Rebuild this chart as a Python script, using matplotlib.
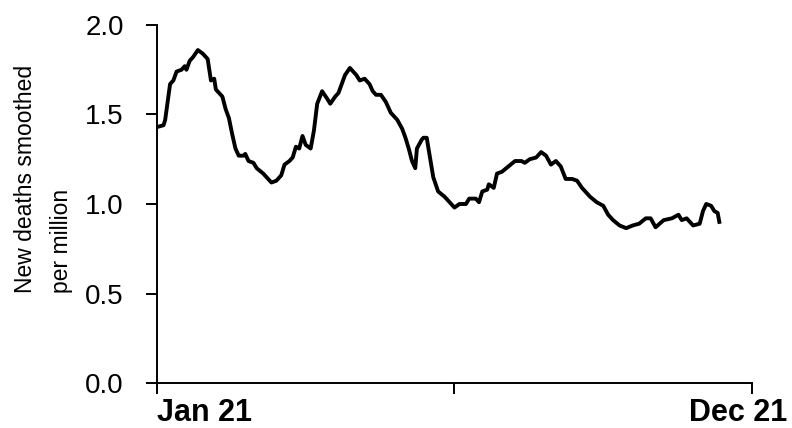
import numpy as np
import pandas as pd
import matplotlib
matplotlib.use('Agg')
import matplotlib.pyplot as plt
import matplotlib.transforms as mtransforms

# ── data ─────────────────────────────────────────────────────────────────────
dates = [
    "2021-01-01", "2021-01-05", "2021-01-06", "2021-01-09", "2021-01-11",
    "2021-01-13", "2021-01-16", "2021-01-18", "2021-01-19", "2021-01-21",
    "2021-01-23", "2021-01-26", "2021-01-29", "2021-02-01", "2021-02-03",
    "2021-02-05", "2021-02-06", "2021-02-08", "2021-02-10", "2021-02-12",
    "2021-02-14", "2021-02-16", "2021-02-18", "2021-02-20", "2021-02-23",
    "2021-02-24", "2021-02-26", "2021-03-01", "2021-03-03", "2021-03-07",
    "2021-03-10", "2021-03-12", "2021-03-15", "2021-03-18", "2021-03-20",
    "2021-03-23", "2021-03-25", "2021-03-27", "2021-03-29", "2021-03-31",
    "2021-04-02", "2021-04-05", "2021-04-07", "2021-04-09", "2021-04-12",
    "2021-04-15", "2021-04-17", "2021-04-20", "2021-04-22", "2021-04-24",
    "2021-04-26", "2021-04-29", "2021-05-01", "2021-05-03", "2021-05-05",
    "2021-05-08", "2021-05-11", "2021-05-13", "2021-05-15", "2021-05-18",
    "2021-05-21", "2021-05-24", "2021-05-28", "2021-05-31", "2021-06-02",
    "2021-06-04", "2021-06-06", "2021-06-08", "2021-06-09", "2021-06-12",
    "2021-06-13", "2021-06-15", "2021-06-17", "2021-06-19", "2021-06-22",
    "2021-06-26", "2021-06-29", "2021-07-02", "2021-07-05", "2021-07-09",
    "2021-07-11", "2021-07-15", "2021-07-17", "2021-07-19", "2021-07-22",
    "2021-07-23", "2021-07-26", "2021-07-28", "2021-07-31", "2021-08-04",
    "2021-08-08", "2021-08-12", "2021-08-14", "2021-08-17", "2021-08-21",
    "2021-08-24", "2021-08-27", "2021-08-30", "2021-09-02", "2021-09-05",
    "2021-09-08", "2021-09-12", "2021-09-15", "2021-09-18", "2021-09-23",
    "2021-09-27", "2021-10-01", "2021-10-04", "2021-10-07", "2021-10-11",
    "2021-10-15", "2021-10-19", "2021-10-23", "2021-10-27", "2021-10-30",
    "2021-11-02", "2021-11-07", "2021-11-12", "2021-11-16", "2021-11-18",
    "2021-11-21", "2021-11-25", "2021-11-29", "2021-12-01", "2021-12-03",
    "2021-12-06", "2021-12-08", "2021-12-10", "2021-12-11",
]
deaths_per_million = [
    1.43, 1.44, 1.47, 1.67, 1.69,
    1.74, 1.75, 1.77, 1.75, 1.80,
    1.82, 1.86, 1.84, 1.81, 1.69,
    1.70, 1.64, 1.62, 1.60, 1.53,
    1.48, 1.39, 1.31, 1.27, 1.27,
    1.28, 1.24, 1.23, 1.20, 1.17,
    1.14, 1.12, 1.13, 1.16, 1.22,
    1.24, 1.26, 1.32, 1.31, 1.38,
    1.33, 1.31, 1.41, 1.56, 1.63,
    1.59, 1.56, 1.60, 1.62, 1.67,
    1.72, 1.76, 1.74, 1.72, 1.69,
    1.70, 1.67, 1.63, 1.61, 1.61,
    1.57, 1.51, 1.47, 1.42, 1.37,
    1.31, 1.24, 1.20, 1.31, 1.36,
    1.37, 1.37, 1.26, 1.15, 1.07,
    1.04, 1.01, 0.98, 1.00, 1.00,
    1.03, 1.03, 1.01, 1.07, 1.08,
    1.11, 1.09, 1.17, 1.18, 1.21,
    1.24, 1.24, 1.23, 1.25, 1.26,
    1.29, 1.27, 1.22, 1.24, 1.21,
    1.14, 1.14, 1.13, 1.09, 1.04,
    1.01, 0.99, 0.94, 0.91, 0.88,
    0.865, 0.88, 0.89, 0.92, 0.92,
    0.87, 0.91, 0.92, 0.94, 0.91,
    0.92, 0.88, 0.89, 0.96, 1.00,
    0.99, 0.96, 0.95, 0.90,
]
x_ticks = ["2021-01-01", "2021-07-02", "2021-12-31"]
x_tick_labels = ["Jan 21", "", "Dec 21"]
y_ticks = [0.0, 0.5, 1.0, 1.5, 2.0]

dates = pd.to_datetime(dates)
x_ticks = pd.to_datetime(x_ticks)

# ── figure ───────────────────────────────────────────────────────────────────
fig = plt.figure(figsize=(7.92, 4.28), dpi=100)
ax = fig.add_axes([157/792, 1 - 383/428, 595/792, 358/428])

ax.plot(dates, deaths_per_million, color='black', lw=2.8, solid_joinstyle='round')

ax.set_xlim(x_ticks[0], x_ticks[-1])
ax.set_ylim(0, 2.0)

ax.set_yticks(y_ticks)
ax.set_yticklabels([f"{v:.1f}" for v in y_ticks], fontsize=20, family='Liberation Sans')
ax.set_xticks(x_ticks)
ax.set_xticklabels(x_tick_labels, fontsize=22, fontweight='bold', family='Liberation Sans')

ax.tick_params(axis='y', length=8, width=1.4, pad=16)
ax.tick_params(axis='x', length=8, width=1.4, pad=3)

labs = ax.get_xticklabels()
labs[0].set_ha('left')
labs[-1].set_ha('right')
labs[-1].set_transform(labs[-1].get_transform() +
                       mtransforms.ScaledTranslation(0.35, 0, fig.dpi_scale_trans))

for side in ['top', 'right']:
    ax.spines[side].set_visible(False)
for side in ['left', 'bottom']:
    ax.spines[side].set_linewidth(1.4)

fig.text(0.055, 1 - 179/428, "New deaths smoothed\nper million",
         rotation=90, ha='center', va='center', multialignment='left',
         fontsize=16.5, family='Liberation Sans', linespacing=1.7)

plt.savefig("out.png", dpi=100)
plt.close()
